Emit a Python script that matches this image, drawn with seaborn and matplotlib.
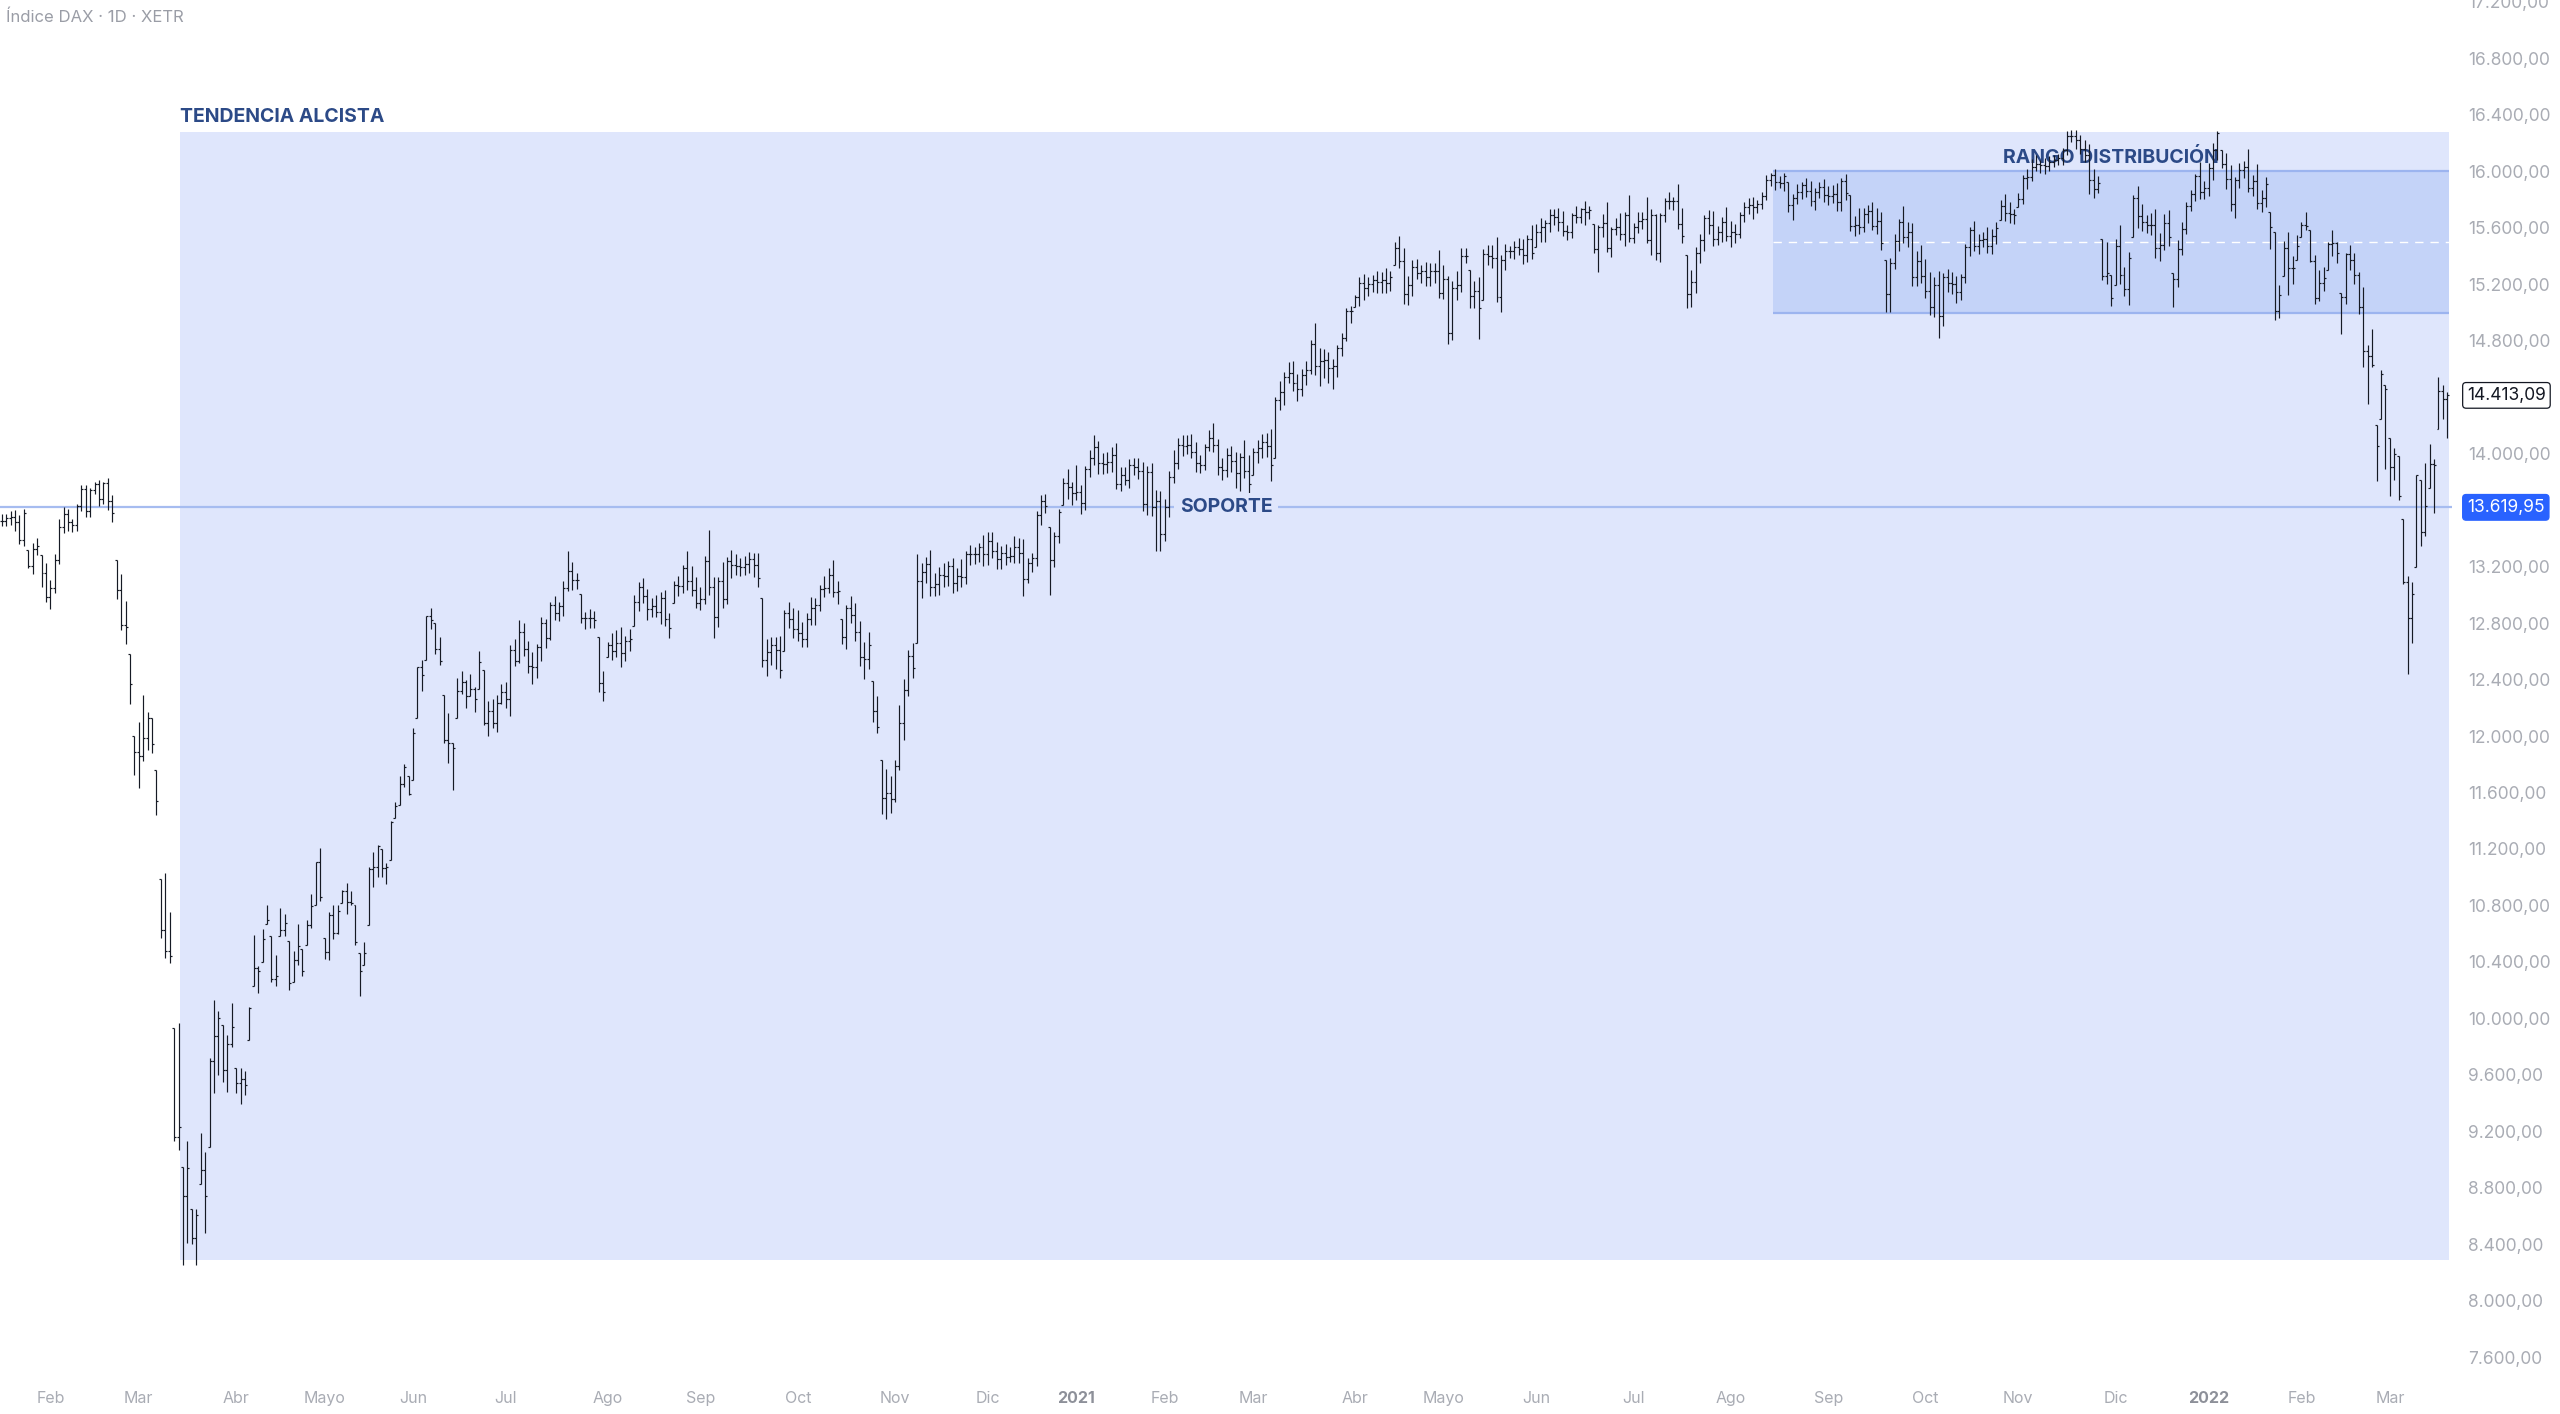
import numpy as np
import pandas as pd
import seaborn as sns
import matplotlib.pyplot as plt
from matplotlib.collections import LineCollection
from matplotlib.patches import Rectangle

# DAX daily bars, one list per month.
# c_ = close, u_ = wick above max(prev close, close), d_ = wick below min(prev close, close)
# (negative wick = price gap, the open is clipped into the bar range)
c_2020_01 = [13526, 13548, 13555, 13515, 13388, 13577, 13205, 13324, 13346, 13158, 12982]
u_2020_01 = [50, 28, 40, 45, 50, 30, -257, 40, 60, -66, 67]
d_2020_01 = [40, 41, 50, 60, 30, 40, 17, 60, 40, 104, 32]

c_2020_02 = [13046, 13250, 13479, 13575, 13514, 13494, 13627, 13750, 13595, 13744,
             13783, 13681, 13789, 13664, 13579, 13035, 12790, 12774, 12367, 11890]
u_2020_02 = [60, 40, 60, 50, 30, 20, 20, 25, 30, 15, 20, 30, 10, 40, 40, -329, 115, 170, -194, -367]
d_2020_02 = [80, 30, 30, 40, 60, 50, 40, 30, 40, 40, 30, 50, 40, 60, 60, 65, 40, 124, 141, 166]

c_2020_03 = [11857, 11985, 12127, 11944, 11542, 10625, 10475, 10439, 9161, 9232, 8742,
             8939, 8442, 8610, 8929, 8741, 9701, 9874, 10000, 9633, 9816, 9936]
u_2020_03 = [210, 305, 43, 3, -184, -552, 405, 275, -509, 738, -282, 191, -289, 40, 261, 121, 19, 256, 50, -50, 64, 174]
d_2020_03 = [227, 37, 85, 64, 102, 55, 45, 49, 31, 91, 487, 332, 42, 187, -220, 261, -349, 231, 274, 83, 153, 16]

c_2020_04 = [9544, 9571, 9525, 10075, 10356, 10333, 10565, 10697, 10280, 10301,
             10626, 10676, 10250, 10415, 10514, 10336, 10659, 10796, 11107, 10862]
u_2020_04 = [-286, 79, 59, 5, 234, 14, 65, 103, -117, 149, 154, 64, -126, 65, 156, -24, 41, 84, 3, 103]
d_2020_04 = [74, 154, 65, -325, -155, 153, -67, -105, 20, 50, -279, 46, 50, -10, 35, 36, -184, 19, -4, 32]

c_2020_05 = [10467, 10730, 10607, 10759, 10904, 10825, 10820, 10542, 10337, 10465,
             11058, 11075, 11223, 11065, 11074, 11391, 11504, 11657, 11781, 11587]
u_2020_05 = [-292, 20, 70, 41, 6, 56, 75, -20, -82, 75, 12, 105, 7, -23, 26, 9, 26, 63, 19, -61]
d_2020_05 = [47, 53, 47, 7, -61, 85, 20, 22, 177, -43, -195, 128, 75, 65, 115, -46, -29, -6, 17, 7]

c_2020_06 = [12021, 12487, 12431, 12848, 12820, 12617, 12530, 11970, 11949, 11912, 12316,
             12382, 12281, 12331, 12263, 12523, 12094, 12177, 12089, 12233, 12311]
u_2020_06 = [39, 3, 53, 2, 62, -20, 83, -240, 190, 1, 94, 78, 18, 109, 19, 77, -53, 73, 83, 57, 59]
d_2020_06 = [-103, -109, 111, -109, 60, 37, 30, 20, 139, 292, -218, 16, 81, 1, 93, -67, 14, 94, 29, 59, 3]

c_2020_07 = [12260, 12608, 12528, 12734, 12616, 12495, 12489, 12633, 12800, 12697, 12930, 12874,
             12920, 13046, 13171, 13104, 13103, 12838, 12839, 12836, 12822, 12379, 12313]
u_2020_07 = [69, 40, 80, 90, 70, 60, 100, 20, 40, 30, 20, 60, 30, 50, 140, 60, 50, -100, 40, 60, 50, -122, 81]
d_2020_07 = [60, 120, 30, 10, 50, 50, 120, 80, 100, 70, 20, 50, 60, 70, 20, 70, 60, 40, 80, 70, 60, 69, 63]

c_2020_08 = [12647, 12601, 12660, 12591, 12675, 12687, 12947, 13058, 12994, 12901, 12920,
             12882, 12977, 12830, 12765, 13067, 13062, 13190, 13097, 13033, 12945]
u_2020_08 = [20, 80, 90, 110, 30, 70, 50, 30, 60, 50, 60, 80, 40, 60, 40, 30, 70, 20, 120, 110, 90]
d_2020_08 = [-250, 60, 40, 100, 60, 70, -93, 60, 50, 80, 60, 40, 90, 50, 70, -175, 70, 50, 60, 40, 40]

c_2020_09 = [12974, 13243, 13057, 12842, 13100, 12968, 13237, 13209, 13202, 13194, 13218,
             13255, 13208, 13116, 12542, 12594, 12643, 12606, 12469, 12871, 12826, 12761]
u_2020_09 = [80, 30, 217, 70, 30, 130, 30, 80, 80, 60, 60, 50, 40, 90, -141, 90, 60, 60, 100, 20, 80, 80]
d_2020_09 = [50, 40, 57, 150, 70, 60, 30, 90, 60, 60, 50, 60, 80, 60, 51, 120, 90, 130, 60, -131, 60, 70]

c_2020_10 = [12731, 12689, 12828, 12906, 12928, 13042, 13051, 13138, 13018, 13028, 12703,
             12909, 12854, 12736, 12558, 12543, 12646, 12177, 12064, 11561, 11598, 11556]
u_2020_10 = [130, 80, 40, 80, 50, 30, 80, 50, 110, 70, -200, 20, 80, 90, 80, 110, 90, -256, 110, -234, 170, 120]
d_2020_10 = [60, 60, 60, 40, 120, 40, 60, 40, 30, 80, 50, 90, 50, 60, 60, 140, 70, 77, 40, 111, 150, 100]

c_2020_11 = [11789, 12089, 12324, 12568, 12480, 13096, 13163, 13217, 13053, 13077, 13139,
             13133, 13202, 13086, 13137, 13127, 13292, 13289, 13286, 13336, 13291]
u_2020_11 = [41, 130, 80, 40, 90, 194, 60, 50, 100, 80, 60, 90, 40, 60, 50, 120, 20, 60, 50, 30, 90]
d_2020_11 = [26, 30, 120, 40, 70, -180, 120, 80, 60, 60, 80, 80, 70, 70, 60, 70, 50, 80, 70, 50, 90]

c_2020_12 = [13382, 13313, 13253, 13299, 13271, 13278, 13340, 13296, 13114, 13223,
             13263, 13565, 13667, 13631, 13246, 13418, 13587, 13790, 13762, 13719]
u_2020_12 = [60, 60, 60, 50, 60, 60, 80, 60, 100, 40, 30, 30, 40, 50, -151, 30, 20, 40, 100, 40]
d_2020_12 = [80, 50, 70, 70, 60, 40, 50, 70, 120, 30, 60, 60, 70, 50, 246, 50, 50, -53, 80, 80]

c_2021_01 = [13726, 13651, 13892, 13968, 14050, 13937, 13925, 13940, 13989, 13788,
             13848, 13815, 13922, 13906, 13874, 13643, 13871, 13620, 13666, 13433]
u_2021_01 = [194, 50, 20, 60, 80, 40, 70, 70, 60, 90, 60, 60, 40, 50, 60, 70, 40, 60, 80, 70]
d_2021_01 = [49, 80, 51, 60, 50, 80, 70, 60, 70, 40, 50, 40, 60, 60, 50, 50, 80, 60, 310, 123]

c_2021_02 = [13622, 13835, 13933, 14060, 14057, 14059, 14011, 13933, 13921, 14050,
             14109, 14064, 13909, 13887, 13993, 13950, 13865, 13976, 13879, 13786]
u_2021_02 = [60, 40, 90, 50, 70, 70, 80, 70, 60, 20, 60, 110, 40, 60, 50, 60, 60, 30, 120, 110]
d_2021_02 = [50, 70, 40, 40, 70, 60, 40, 60, 60, 40, 30, 50, 60, 70, 50, 80, 110, 130, 50, 100]

c_2021_03 = [14012, 14039, 14080, 14056, 13920, 14380, 14437, 14541, 14569, 14502, 14461, 14557,
             14596, 14775, 14621, 14657, 14662, 14610, 14621, 14749, 14818, 15009, 15008]
u_2021_03 = [30, 60, 60, 70, 120, 20, 80, 40, 80, 90, 60, 40, 60, 30, 150, 90, 80, 60, 50, 20, 40, 20, 40]
d_2021_03 = [-64, 80, 70, 80, 110, -48, 70, 90, 40, 60, 90, 50, 70, 30, 60, 140, 120, 110, 150, 80, 60, 20, 80]

c_2021_04 = [15107, 15212, 15177, 15203, 15234, 15215, 15234, 15209, 15255, 15460,
             15368, 15130, 15196, 15320, 15280, 15296, 15249, 15292, 15291, 15136]
u_2021_04 = [20, 40, 60, 50, 30, 60, 50, 80, 40, 40, 80, 90, 60, 50, 60, 40, 60, 60, 60, 150]
d_2021_04 = [-30, 60, 90, 60, 60, 80, 80, 70, 60, -85, 50, 70, 80, 80, 40, 70, 60, 60, 80, 30]

c_2021_05 = [15236, 14856, 15171, 15197, 15400, 15400, 15120, 15150, 15031, 15417, 15397,
             15386, 15113, 15370, 15438, 15438, 15465, 15450, 15407, 15520, 15421]
u_2021_05 = [100, 24, 50, 100, 60, 60, -100, 70, 100, 30, 60, 80, 150, 40, 50, 30, 40, 60, 70, 30, 100]
d_2021_05 = [40, 76, 50, 80, 50, 50, 90, 90, 215, -60, 60, 70, 40, 110, 70, 50, 60, 40, 60, 50, 40]

c_2021_06 = [15568, 15603, 15633, 15693, 15677, 15640, 15581, 15571, 15693, 15674, 15730,
             15711, 15728, 15448, 15603, 15636, 15456, 15589, 15608, 15554, 15691, 15531]
u_2021_06 = [60, 70, 20, 40, 40, 60, 80, 40, 10, 60, 10, 60, 30, -98, 20, 60, 150, 20, 60, 100, 20, 140]
d_2021_06 = [-40, 70, 100, 60, 60, 60, 40, 60, 40, 40, 40, 90, 50, 28, 158, 70, 30, 60, 40, 40, 80, 30]

c_2021_07 = [15604, 15650, 15661, 15511, 15693, 15421, 15688, 15791, 15790, 15788, 15630,
             15540, 15133, 15216, 15422, 15514, 15669, 15618, 15519, 15570, 15640, 15544]
u_2021_07 = [30, 60, 50, 160, 40, 7, 20, 20, 60, 30, 120, 110, -132, 84, 40, 40, 20, 60, 100, 40, 40, 110]
d_2021_07 = [40, 40, 60, 20, 100, 51, 60, 50, 60, 60, 40, 50, 103, 93, 80, 70, 80, 60, 50, 40, 70, 40]

c_2021_08 = [15569, 15555, 15692, 15745, 15761, 15746, 15770, 15826, 15937, 15977, 15925,
             15921, 15966, 15765, 15808, 15852, 15906, 15861, 15793, 15852, 15888, 15835]
u_2021_08 = [80, 60, 20, 40, 50, 60, 30, 30, 40, 10, 40, 40, 20, -40, 30, 60, 20, 50, 70, 30, 40, 60]
d_2021_08 = [80, 60, 30, 50, 50, 80, 40, 40, 30, 40, 60, 40, 60, 50, 110, 40, 50, 40, 40, 70, 40, 50]

c_2021_09 = [15824, 15841, 15781, 15932, 15844, 15610, 15623, 15609, 15701, 15722, 15616,
             15651, 15491, 15132, 15349, 15506, 15644, 15532, 15573, 15249, 15365, 15261]
u_2021_09 = [60, 60, 80, 20, 50, -14, 60, 120, 40, 40, 60, 90, 60, -119, 40, 50, 20, 110, 70, 60, 70, 110]
d_2021_09 = [60, 50, 60, 60, 50, 30, 70, 50, 40, 70, 30, 60, 50, 125, 130, 40, 70, 40, 70, 60, 60, 50]

c_2021_10 = [15156, 15036, 15195, 14973, 15250, 15207, 15199, 15147, 15250, 15463, 15587,
             15474, 15516, 15523, 15473, 15543, 15600, 15757, 15705, 15696, 15689]
u_2021_10 = [120, 130, 60, 100, 30, 60, 80, 60, 20, 20, 20, 60, 40, 50, 80, 50, 40, 40, 80, 80, 40]
d_2021_10 = [50, 50, 70, 155, 70, 60, 70, 80, 60, 40, 60, 40, 60, 50, 50, 60, 60, -56, 60, 60, 60]

c_2021_11 = [15806, 15954, 15960, 16030, 16054, 16047, 16040, 16068, 16083, 16094, 16148,
             16248, 16251, 16221, 16160, 16115, 15937, 15878, 15917, 15257, 15280, 15100]
u_2021_11 = [40, 20, 60, 60, 60, 30, 50, 40, 30, 30, 20, 40, 40, 40, 40, 60, 80, 80, 50, -397, 220, -14]
d_2021_11 = [-61, 40, 80, 30, 30, 60, 60, 40, 40, 40, 50, 30, 40, 60, 40, 50, 100, 70, 30, 27, 57, 55]

c_2021_12 = [15473, 15263, 15170, 15387, 15813, 15687, 15639, 15623, 15622, 15454, 15476,
             15637, 15532, 15240, 15447, 15593, 15756, 15838, 15964, 15852, 15885]
u_2021_12 = [50, 150, 60, 40, 20, 80, 80, 50, 80, 110, 90, 60, 90, -254, 70, 50, 30, 30, 20, 100, 50]
d_2021_12 = [-96, 60, 50, 120, -151, 90, 60, 60, 70, 70, 90, 30, 60, 198, 60, 40, 40, 40, 50, 50, 50]

c_2022_01 = [16021, 16152, 16271, 16052, 15948, 15768, 15942, 16010, 16032, 15883, 15934,
             15773, 15810, 15912, 15603, 15011, 15124, 15460, 15318, 15318, 15471]
u_2022_01 = [40, 50, 15, -120, 80, 100, 20, 50, 40, 130, 40, 120, 60, 50, -202, -29, 70, 46, 114, 82, 76]
d_2022_01 = [60, 80, 70, 30, 70, 50, 100, 60, 60, 30, 60, 40, 60, 60, 151, 61, 48, -138, 192, 118, -52]

c_2022_02 = [15619, 15613, 15368, 15100, 15206, 15242, 15482, 15490, 15425, 15113,
             15412, 15370, 15267, 15042, 14731, 14693, 14631, 14052, 14567, 14461]
u_2022_02 = [23, 91, -25, 43, 94, 78, 18, 98, 10, -285, 8, 68, 50, 22, 138, 42, 189, -427, 23, -78]
d_2022_02 = [-62, 25, 11, 41, 20, 56, -58, 82, 75, 263, 53, 70, 67, 51, 120, 340, 20, 245, -193, 569]

c_2022_03 = [13905, 14000, 13698, 13094, 12835, 13008, 13848, 13443, 13628, 13929, 13917, 14441, 14388, 14413]
u_2022_03 = [-352, 41, -13, -159, 38, 84, 0, -37, 305, 139, 31, 102, 48, 24]
d_2022_03 = [203, 94, 23, 16, 395, 177, -192, 94, 26, -128, 337, -260, 143, 279]

month_labels = ['', 'Feb', 'Mar', 'Abr', 'Mayo', 'Jun', 'Jul', 'Ago', 'Sep', 'Oct', 'Nov', 'Dic',
                '2021', 'Feb', 'Mar', 'Abr', 'Mayo', 'Jun', 'Jul', 'Ago', 'Sep', 'Oct', 'Nov', 'Dic',
                '2022', 'Feb', 'Mar']

closes = [c_2020_01, c_2020_02, c_2020_03, c_2020_04, c_2020_05, c_2020_06, c_2020_07, c_2020_08,
          c_2020_09, c_2020_10, c_2020_11, c_2020_12, c_2021_01, c_2021_02, c_2021_03, c_2021_04,
          c_2021_05, c_2021_06, c_2021_07, c_2021_08, c_2021_09, c_2021_10, c_2021_11, c_2021_12,
          c_2022_01, c_2022_02, c_2022_03]
ups = [u_2020_01, u_2020_02, u_2020_03, u_2020_04, u_2020_05, u_2020_06, u_2020_07, u_2020_08,
       u_2020_09, u_2020_10, u_2020_11, u_2020_12, u_2021_01, u_2021_02, u_2021_03, u_2021_04,
       u_2021_05, u_2021_06, u_2021_07, u_2021_08, u_2021_09, u_2021_10, u_2021_11, u_2021_12,
       u_2022_01, u_2022_02, u_2022_03]
downs = [d_2020_01, d_2020_02, d_2020_03, d_2020_04, d_2020_05, d_2020_06, d_2020_07, d_2020_08,
         d_2020_09, d_2020_10, d_2020_11, d_2020_12, d_2021_01, d_2021_02, d_2021_03, d_2021_04,
         d_2021_05, d_2021_06, d_2021_07, d_2021_08, d_2021_09, d_2021_10, d_2021_11, d_2021_12,
         d_2022_01, d_2022_02, d_2022_03]

# drawn levels
soporte = 13619.95
rango_low, rango_high = 15000, 16000
tendencia_low, tendencia_high = 8285, 16280

# build the bar table
rows = []
for m, (cl, up, dn) in enumerate(zip(closes, ups, downs)):
    if not (len(cl) == len(up) == len(dn)):
        print('length mismatch in month', m, len(cl), len(up), len(dn))
    for c, u, d in zip(cl, up, dn):
        rows.append((m, c, u, d))
df = pd.DataFrame(rows, columns=['month', 'close', 'up', 'down'])
df['x'] = np.arange(len(df))
df['prev'] = df['close'].shift(1).fillna(df['close'])
body_hi = df[['prev', 'close']].max(axis=1)
body_lo = df[['prev', 'close']].min(axis=1)
df['high'] = np.maximum(body_hi + df['up'], df['close'])
df['low'] = np.minimum(body_lo - df['down'], df['close'])
df['open'] = df['prev'].clip(df['low'], df['high'])

month_start = df.groupby('month')['x'].min().values
last_x = df['x'].iloc[-1]
trend_x0 = month_start[2] + 10 - 0.6     # 16 Mar 2020
rango_x0 = month_start[19] + 10 - 0.5    # 16 Aug 2021
right_x = last_x + 0.4

# ---- figure ----
sns.set_theme(style='white')
plt.rcParams['font.family'] = ['Inter', 'DejaVu Sans']

W, H = 2560, 1414
fig = plt.figure(figsize=(W / 100, H / 100), dpi=100)
ax_right_px, ax_bottom_px = 2452, 1380
ax = fig.add_axes([0, (H - ax_bottom_px) / H, ax_right_px / W, ax_bottom_px / H])
ax.set_facecolor('white')

px_per_bar = 4.4225
ax.set_xlim(-1.7 / px_per_bar, (ax_right_px - 1.7) / px_per_bar)
ax.set_ylim(7438, 17214)

# zones
ax.add_patch(Rectangle((trend_x0, tendencia_low), right_x - trend_x0, tendencia_high - tendencia_low,
                       facecolor='#dfe6fc', edgecolor='none', zorder=0.5))
ax.add_patch(Rectangle((rango_x0, rango_low), right_x - rango_x0, rango_high - rango_low,
                       facecolor='#c4d3f8', edgecolor='none', zorder=0.8))
ax.hlines([rango_low, rango_high], rango_x0, right_x, colors='#9cb4ef', lw=1.6, zorder=0.9)
ax.hlines((rango_low + rango_high) / 2, rango_x0, right_x, colors='white', lw=1.0,
          linestyles=(0, (6, 5)), zorder=0.9)

# support line
sup = pd.DataFrame({'x': [ax.get_xlim()[0], ax.get_xlim()[1]], 'y': [soporte, soporte]})
sns.lineplot(data=sup, x='x', y='y', color='#a6bcf0', lw=1.6, ax=ax, zorder=1)

# OHLC bars
tick = 0.45
segs = []
for x, o, h, l, c in zip(df['x'], df['open'], df['high'], df['low'], df['close']):
    segs.append([(x, l), (x, h)])
    segs.append([(x - tick, o), (x, o)])
    segs.append([(x, c), (x + tick, c)])
ax.add_collection(LineCollection(segs, colors='#161a24', linewidths=0.85, zorder=3))

# labels on the chart
txt_col = '#2c4a87'
lab_size = 14
ax.annotate('TENDENCIA ALCISTA', xy=(trend_x0, tendencia_high), xytext=(0, 10),
            textcoords='offset pixels', ha='left', va='baseline', fontsize=lab_size,
            fontweight='bold', color=txt_col, zorder=4)
ax.annotate('RANGO DISTRIBUCIÓN', xy=((rango_x0 + right_x) / 2, rango_high), xytext=(0, 8),
            textcoords='offset pixels', ha='center', va='baseline', fontsize=lab_size,
            fontweight='bold', color=txt_col, zorder=2)
ax.text(0.5, soporte, 'SOPORTE', transform=ax.get_yaxis_transform(), ha='center', va='center',
        fontsize=lab_size, fontweight='bold', color=txt_col, zorder=4,
        bbox=dict(boxstyle='square,pad=0.3', fc='#dfe6fc', ec='none'))

# price scale
price_ticks = [p for p in range(7600, 17201, 400) if p not in (13600, 14400)]


def fmt_eur(v):
    return f'{v:,.2f}'.replace(',', 'X').replace('.', ',').replace('X', '.')


scale_size = 12.5
ax.yaxis.tick_right()
ax.set_yticks(price_ticks)
ax.set_yticklabels([fmt_eur(p) for p in price_ticks])
ax.tick_params(axis='y', length=0, pad=11.5, labelsize=scale_size, labelcolor='#a9acb4')

ax.set_xticks(month_start[1:])
ax.set_xticklabels(month_labels[1:])
ax.tick_params(axis='x', length=0, pad=8, labelsize=11.5, labelcolor='#a9acb4')
for t in ax.get_xticklabels():
    if t.get_text() in ('2021', '2022'):
        t.set_fontweight('bold')
        t.set_color('#8d9099')

ax.set_xlabel('')
ax.set_ylabel('')
sns.despine(ax=ax, left=True, bottom=True, right=True, top=True)
ax.grid(False)

# last price and support price tags
last_price = df['close'].iloc[-1] + 0.09
ax.annotate(fmt_eur(last_price), xy=(1, last_price),
            xycoords=('axes fraction', 'data'), xytext=(15, 0), textcoords='offset pixels',
            ha='left', va='center', fontsize=scale_size, color='#131722', annotation_clip=False,
            bbox=dict(boxstyle='round,pad=0.25,rounding_size=0.2', fc='white', ec='#131722', lw=0.9))
ax.annotate(fmt_eur(soporte), xy=(1, soporte), xycoords=('axes fraction', 'data'),
            xytext=(15, 0), textcoords='offset pixels', ha='left', va='center', fontsize=scale_size,
            color='white', annotation_clip=False,
            bbox=dict(boxstyle='round,pad=0.25,rounding_size=0.2', fc='#2962ff', ec='#2962ff', lw=0.9))

fig.text(6 / W, 1 - 17 / H, 'Índice DAX · 1D · XETR', fontsize=12, color='#9a9da6',
         ha='left', va='center')

fig.savefig('out.png', dpi=100, facecolor='white')
